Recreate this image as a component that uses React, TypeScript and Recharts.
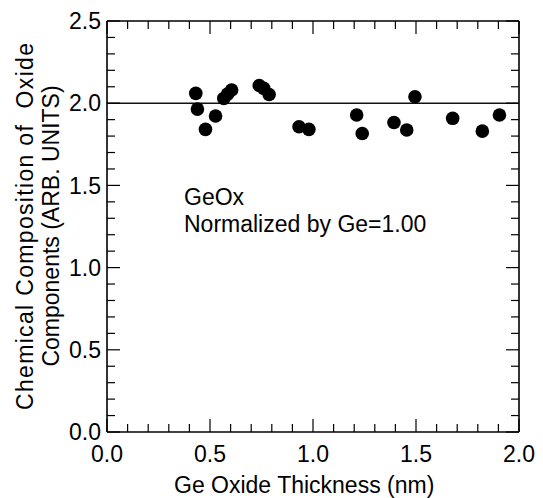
import React from "react";
import { ReferenceLine, Scatter, ScatterChart, XAxis, YAxis } from "recharts";

// Ge oxide thickness (nm) and normalized O/Ge composition
const thickness = [
  0.431, 0.439, 0.478, 0.527, 0.567, 0.585, 0.605, 0.739, 0.761, 0.787,
  0.932, 0.98, 1.212, 1.239, 1.393, 1.455, 1.495, 1.678, 1.822, 1.905,
];
const composition = [
  2.06, 1.964, 1.841, 1.922, 2.029, 2.055, 2.08, 2.108, 2.09, 2.053,
  1.857, 1.841, 1.928, 1.816, 1.883, 1.837, 2.039, 1.908, 1.83, 1.928,
];

const xTicks = [
  0, 0.1, 0.2, 0.3, 0.4, 0.5, 0.6, 0.7, 0.8, 0.9, 1.0,
  1.1, 1.2, 1.3, 1.4, 1.5, 1.6, 1.7, 1.8, 1.9, 2.0,
];
const yTicks = [
  0, 0.1, 0.2, 0.3, 0.4, 0.5, 0.6, 0.7, 0.8, 0.9, 1.0, 1.1, 1.2,
  1.3, 1.4, 1.5, 1.6, 1.7, 1.8, 1.9, 2.0, 2.1, 2.2, 2.3, 2.4, 2.5,
];

const points = thickness.map((x, i) => ({ x, y: composition[i] }));

const FONT = "'Liberation Sans', Arial, Helvetica, sans-serif";
const MAJOR = 13;
const MINOR = 8;

const isMajor = (v: number) => Math.abs(v * 2 - Math.round(v * 2)) < 1e-6;

const BottomTick = ({ x, y, payload }: any) => {
  const major = isMajor(payload.value);
  return (
    <g>
      <line x1={x} x2={x} y1={y} y2={y - (major ? MAJOR : MINOR)} stroke="#000" strokeWidth={1.2} />
      {major && (
        <text x={x} y={y + 30} textAnchor="middle" fontSize={23} fontFamily={FONT} fill="#000">
          {payload.value.toFixed(1)}
        </text>
      )}
    </g>
  );
};

const TopTick = ({ x, y, payload }: any) => {
  const major = isMajor(payload.value);
  return <line x1={x} x2={x} y1={y} y2={y + (major ? MAJOR : MINOR)} stroke="#000" strokeWidth={1.2} />;
};

const LeftTick = ({ x, y, payload }: any) => {
  const major = isMajor(payload.value);
  return (
    <g>
      <line x1={x} x2={x + (major ? MAJOR : MINOR)} y1={y} y2={y} stroke="#000" strokeWidth={1.2} />
      {major && (
        <text x={x - 6} y={y} dy="0.36em" textAnchor="end" fontSize={23} fontFamily={FONT} fill="#000">
          {payload.value.toFixed(1)}
        </text>
      )}
    </g>
  );
};

const RightTick = ({ x, y, payload }: any) => {
  const major = isMajor(payload.value);
  return <line x1={x} x2={x - (major ? MAJOR : MINOR)} y1={y} y2={y} stroke="#000" strokeWidth={1.2} />;
};

const Dot = ({ cx, cy }: any) => <circle cx={cx} cy={cy} r={6.8} fill="#000" />;

const axisLine = { stroke: "#000", strokeWidth: 1.6 };

export default function App() {
  return (
    <div style={{ position: "absolute", left: 0, top: 0, width: 543, height: 498, background: "#fff" }}>
      <ScatterChart width={543} height={498} margin={{ top: 20, right: 23, bottom: 0, left: 0 }}>
        <XAxis
          dataKey="x"
          type="number"
          domain={[0, 2]}
          ticks={xTicks}
          interval={0}
          height={66}
          tickSize={0}
          tickMargin={0}
          tickLine={false}
          axisLine={axisLine}
          tick={<BottomTick />}
          allowDataOverflow
        />
        <XAxis
          xAxisId="top"
          orientation="top"
          dataKey="x"
          type="number"
          domain={[0, 2]}
          ticks={xTicks}
          interval={0}
          height={1}
          tickSize={0}
          tickMargin={0}
          tickLine={false}
          axisLine={axisLine}
          tick={<TopTick />}
          allowDataOverflow
        />
        <YAxis
          dataKey="y"
          type="number"
          domain={[0, 2.5]}
          ticks={yTicks}
          interval={0}
          width={107}
          tickSize={0}
          tickMargin={0}
          tickLine={false}
          axisLine={axisLine}
          tick={<LeftTick />}
          allowDataOverflow
        />
        <YAxis
          yAxisId="right"
          orientation="right"
          dataKey="y"
          type="number"
          domain={[0, 2.5]}
          ticks={yTicks}
          interval={0}
          width={1}
          tickSize={0}
          tickMargin={0}
          tickLine={false}
          axisLine={axisLine}
          tick={<RightTick />}
          allowDataOverflow
        />
        <ReferenceLine y={2} stroke="#111" strokeWidth={1.6} />
        <Scatter data={points} shape={<Dot />} isAnimationActive={false} />
      </ScatterChart>
      <svg
        width={543}
        height={498}
        style={{ position: "absolute", left: 0, top: 0, pointerEvents: "none" }}
        fontFamily={FONT}
      >
        <text x={174} y={493} fontSize={23} fill="#000">
          Ge Oxide Thickness (nm)
        </text>
        <text x={184} y={205} fontSize={23} fill="#000">
          GeOx
        </text>
        <text x={184} y={232} fontSize={23} fill="#000">
          Normalized by Ge=1.00
        </text>
        <text
          transform="translate(32.5,226.5) rotate(-90)"
          textAnchor="middle"
          fontSize={23}
          fill="#000"
          textLength={367}
          lengthAdjust="spacing"
        >
          {"Chemical Composition of\u00a0\u00a0Oxide"}
        </text>
        <text transform="translate(58.5,226) rotate(-90)" textAnchor="middle" fontSize={23} fill="#000">
          Components (ARB. UNITS)
        </text>
      </svg>
    </div>
  );
}
